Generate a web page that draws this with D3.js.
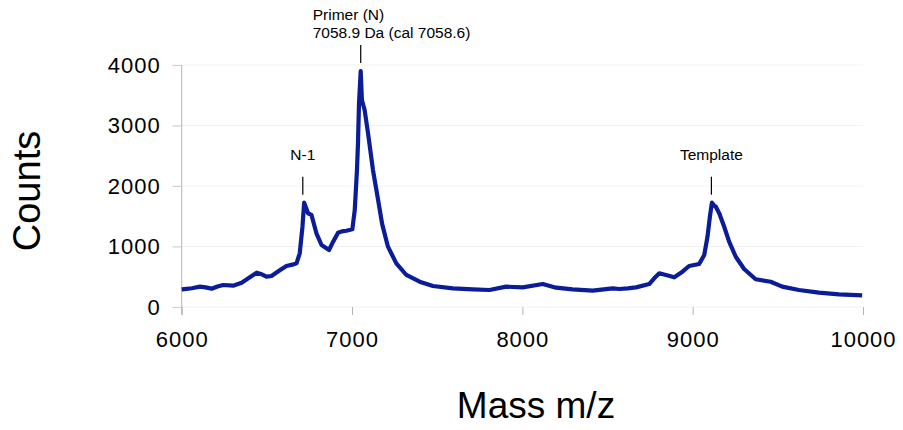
<!DOCTYPE html>
<html>
<head>
<meta charset="utf-8">
<script src="https://cdn.jsdelivr.net/npm/d3@7"></script>
<style>
  body { margin: 0; background: #fff; }
  text { font-family: "Liberation Sans", Arial, sans-serif; fill: #000; }
</style>
</head>
<body>
<svg id="chart" width="903" height="430"></svg>
<script>
// spectrum
var mass = [6000, 6030, 6060, 6107, 6140, 6176, 6210, 6244, 6302, 6352, 6391, 6440, 6470, 6498, 6527, 6576, 6615, 6650, 6674, 6693, 6709, 6719, 6730, 6742, 6762, 6791,
  6821, 6865, 6889, 6918, 6940, 6967, 7002, 7016, 7029, 7035, 7041, 7051, 7058, 7074, 7094, 7123, 7153, 7177, 7211, 7260, 7319,
  7397, 7475, 7592, 7709, 7807, 7905, 8002, 8120, 8198, 8295, 8413, 8530, 8569, 8618, 8667, 8745, 8774, 8804, 8843, 8892,
  8940, 8979, 9038, 9068, 9087, 9101, 9113, 9125, 9136, 9156, 9185, 9214, 9253, 9302, 9370, 9458, 9526, 9624, 9741, 9859, 9995]
var counts = [290, 300, 310, 336, 325, 303, 340, 364, 352, 402, 474, 567, 540, 501, 512, 606, 678, 700, 722, 887, 1327, 1724, 1640, 1548, 1521, 1218,
  1025, 942, 1080, 1228, 1250, 1261, 1284, 1603, 2264, 2705, 3367, 3900, 3421, 3256, 2871, 2264, 1769, 1370, 997, 722, 529,
  418, 347, 309, 292, 281, 336, 325, 380, 319, 292, 270, 309, 298, 309, 325, 380, 474, 557, 529, 491,
  584, 678, 711, 860, 1162, 1493, 1724, 1680, 1658, 1548, 1327, 1080, 831, 628, 458, 418, 336, 281, 237, 209, 193]

var xTicks = [6000, 7000, 8000, 9000, 10000]
var yTicks = [0, 1000, 2000, 3000, 4000]

var peakLabels = [["N-1"], ["Primer (N)", "7058.9 Da (cal 7058.6)"], ["Template"]]
var peakMass = [6711, 7051, 9110]
var peakCounts = [1724, 3900, 1724]

var svg = d3.select("#chart")

var x = d3.scaleLinear().domain([6000, 10000]).range([181.7, 863])
var y = d3.scaleLinear().domain([0, 4000]).range([307, 65])

// faint gridlines
svg.append("g").selectAll("line")
  .data(yTicks)
  .join("line")
  .attr("x1", 172).attr("x2", 863)
  .attr("y1", d => y(d)).attr("y2", d => y(d))
  .attr("stroke", "#f2f2f2")

var yAxis = svg.append("g")
  .attr("transform", "translate(" + x(6000) + ",0)")
  .call(d3.axisLeft(y).tickValues(yTicks).tickSize(9).tickPadding(12).tickFormat(d3.format("d")))
yAxis.select(".domain").attr("stroke", "#b5b5b5").attr("d", "M0," + y(4000) + "V" + (y(0) + 8))
yAxis.selectAll(".tick line").attr("stroke", "#d0d0d0")
yAxis.selectAll(".tick text").style("font-size", "22px").style("letter-spacing", "1px")
  .style("font-family", "Liberation Sans, Arial, sans-serif").attr("fill", "#000")

var xAxis = svg.append("g")
  .attr("transform", "translate(0," + y(0) + ")")
  .call(d3.axisBottom(x).tickValues(xTicks).tickSize(8).tickPadding(16).tickFormat(d3.format("d")))
xAxis.select(".domain").remove()
xAxis.selectAll(".tick line").attr("stroke", "#b5b5b5")
xAxis.selectAll(".tick text").style("font-size", "22px").style("letter-spacing", "1px")
  .style("font-family", "Liberation Sans, Arial, sans-serif").attr("fill", "#000")

// spectrum line
var line = d3.line()
  .x((d, i) => x(mass[i]))
  .y(d => y(d))

svg.append("path")
  .datum(counts)
  .attr("d", line)
  .attr("fill", "none")
  .attr("stroke", "#0a1c98")
  .attr("stroke-width", 4.2)
  .attr("stroke-linejoin", "round")

// peak markers
peakLabels.forEach(function(lab, i) {
  var px = x(peakMass[i])
  var py = y(peakCounts[i])
  var g = svg.append("g")
  g.append("line")
    .attr("x1", px).attr("x2", px)
    .attr("y1", py - 26).attr("y2", py - 8)
    .attr("stroke", "#000").attr("stroke-width", 1.2)
  if (lab.length == 1) {
    g.append("text")
      .attr("x", px).attr("y", py - 43)
      .attr("text-anchor", "middle")
      .style("font-size", "15.5px")
      .text(lab[0])
  } else {
    lab.forEach(function(t, j) {
      g.append("text")
        .attr("x", px - 48).attr("y", py - 51 + j * 18)
        .style("font-size", "15.5px")
        .text(t)
    })
  }
})

// axis titles
svg.append("text")
  .attr("transform", "translate(40,191) rotate(-90)")
  .attr("text-anchor", "middle")
  .style("font-size", "38px")
  .text("Counts")

svg.append("text")
  .attr("x", 536).attr("y", 418)
  .attr("text-anchor", "middle")
  .style("font-size", "37px")
  .text("Mass m/z")
</script>
</body>
</html>
